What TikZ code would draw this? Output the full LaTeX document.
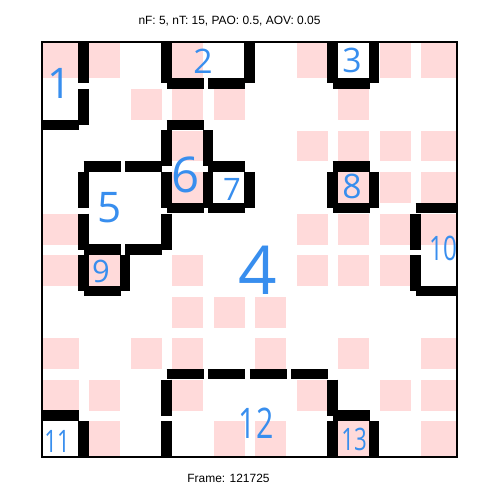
\documentclass[tikz,border=0pt]{standalone}
\usepackage{fontspec}
\usepackage{graphicx}
\usepackage{tikz}
\setmainfont{Liberation Sans}
\newfontfamily\handfont{Open Sans}
\definecolor{cellpink}{RGB}{255,218,218}
\definecolor{inkblue}{RGB}{56,142,238}
\tikzset{
  pinkcell/.style={fill=cellpink},
  wall/.style={line width=2.6mm,line cap=butt},
  caption/.style={font=\fontsize{8.5}{10}\selectfont,inner sep=0pt},
  regionlabel/.style={text=inkblue,inner sep=0pt,font=\handfont\fontsize{#1}{#1}\selectfont}
}
\newcommand{\narrow}[1]{\scalebox{0.72}[1]{#1}}

\begin{document}
\begin{tikzpicture}[x=0.25mm,y=-0.25mm]
  \useasboundingbox (0,0) rectangle (500,500);

  % pink cells, column/row
  \foreach \c/\r in {0/0,1/0,3/0,6/0,8/0,9/0, 2/1,3/1,4/1,7/1, 3/2,6/2,7/2,8/2,9/2,
                     3/3,7/3,8/3,9/3, 0/4,6/4,7/4,8/4,9/4, 0/5,1/5,3/5,6/5,7/5,8/5,
                     3/6,4/6,5/6, 0/7,2/7,3/7,5/7,7/7,9/7, 0/8,1/8,3/8,6/8,8/8,9/8,
                     1/9,4/9,5/9,7/9,9/9} {
    \pgfmathsetmacro\xa{\c==0 ? 42 : 47.75+41.5*\c}
    \pgfmathsetmacro\xb{\c==9 ? 457 : 78.5+41.5*\c}
    \pgfmathsetmacro\ya{\r==0 ? 42 : 47.75+41.5*\r}
    \pgfmathsetmacro\yb{\r==9 ? 457 : 78.5+41.5*\r}
    \fill[pinkcell] (\xa,\ya) rectangle (\xb,\yb);
  }

  \draw[line width=0.3mm] (42,42) rectangle (457,457);

  % walls between regions: horizontal i/j, then vertical i/j
  \foreach \i/\j in {0/2,3/1,4/1,7/1,3/2,3/4,4/3,4/4,1/3,2/3,1/5,2/5,1/6,
                     7/3,7/4,9/4,9/6,0/9,3/8,4/8,5/8,6/8,7/9} {
    \pgfmathsetmacro\xe{\i==9 ? 457 : 79+41.5*\i}
    \draw[wall] ({42+41.5*\i},{42+41.5*\j}) -- (\xe,{42+41.5*\j});
  }
  \foreach \i/\j in {1/0,1/1,3/0,5/0,7/0,8/0,3/2,3/3,4/2,4/3,5/3,1/3,1/4,3/4,
                     1/5,2/5,7/3,8/3,9/4,9/5,1/9,3/8,3/9,7/8,7/9,8/9} {
    \pgfmathsetmacro\ys{\j==0 ? 42 : 47.5+41.5*\j}
    \draw[wall] ({42+41.5*\i},\ys) -- ({42+41.5*\i},{83.5+41.5*\j});
  }

  \node[regionlabel=30] (lab1) at (60,83) {1};
  \node[regionlabel=24] (lab2) at (203,61) {2};
  \node[regionlabel=24] (lab3) at (352,60) {3};
  \node[regionlabel=48] (lab4) at (258,270) {4};
  \node[regionlabel=30] (lab5) at (110,208) {5};
  \node[regionlabel=35] (lab6) at (186,175) {6};
  \node[regionlabel=22] (lab7) at (232,189) {7};
  \node[regionlabel=24] (lab8) at (352,186) {8};
  \node[regionlabel=22] (lab9) at (101,271) {9};
  \node[regionlabel=24] (lab10) at (443,248) {\narrow{10}};
  \node[regionlabel=22] (lab11) at (57,441) {\narrow{11}};
  \node[regionlabel=30] (lab12) at (256,423) {\narrow{12}};
  \node[regionlabel=22] (lab13) at (354,439) {\narrow{13}};

  \node[caption] (title) at (229.5,21.5) {nF: 5, nT: 15, PAO: 0.5, AOV: 0.05};
  \node[caption] (frameno) at (228.5,478) {Frame: 121725};
\end{tikzpicture}
\end{document}
